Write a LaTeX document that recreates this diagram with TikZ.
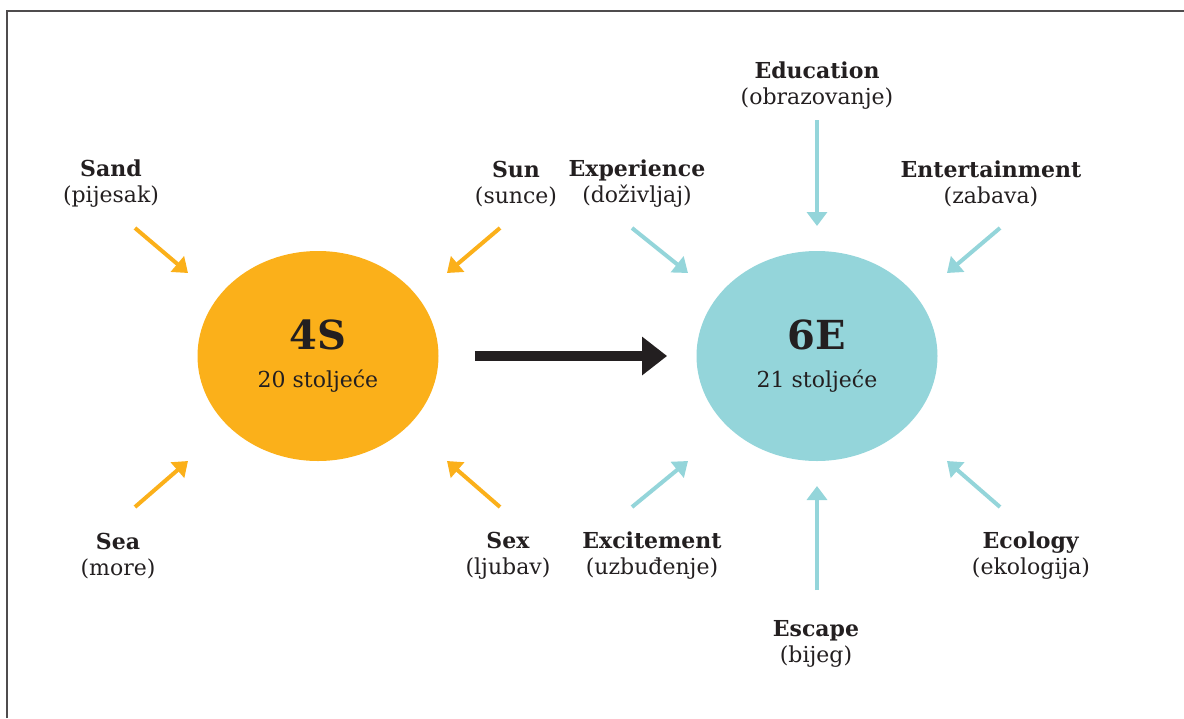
\documentclass[tikz,border=0pt]{standalone}
\usepackage{fontspec}
\setmainfont{DejaVu Serif}
\usetikzlibrary{shapes.geometric,arrows.meta}
\definecolor{sorange}{HTML}{FBB01A}
\definecolor{eteal}{HTML}{94D5DA}
\definecolor{ink}{HTML}{231F20}

\begin{document}
\begin{tikzpicture}[x=0.5pt,y=-0.5pt,
    lab/.style={align=center,text=ink,font=\fontsize{11}{13}\selectfont},
    ball/.style={ellipse,minimum width=120.5pt,minimum height=105pt,align=center,text=ink,inner sep=0pt,font=\fontsize{11}{13}\selectfont},
    sarr/.style={-{Triangle[width=10pt,length=7pt]},line width=2pt,color=sorange},
    earr/.style={-{Triangle[width=10pt,length=7pt]},line width=2pt,color=eteal}]

  \useasboundingbox (0,0) rectangle (1184,718);
  \draw[line width=1pt,color=ink!80] (7,718) -- (7,11) -- (1184,11);

    %%%%%%%%%% 4S %%%%%%%%%%
    \node[ball,fill=sorange] (s0) at (318,356) {{\fontsize{20}{24}\selectfont\bfseries 4S}\\[6pt]20 stoljeće};

      \node[lab] (s1) at (111,184) {\textbf{Sand}\\(pijesak)};
      \node[lab] (s2) at (516,184) {\textbf{Sun}\\(sunce)};
    \node[lab] (s3) at (118,556) {\textbf{Sea}\\(more)};
    \node[lab] (s4) at (508,556) {\textbf{Sex}\\(ljubav)};

     \coordinate (s'1) at (135,228);  \coordinate (ss'1) at (188,273);
     \coordinate (s'2) at (500,228);  \coordinate (ss'2) at (447,273);
     \coordinate (s'3) at (135,507);  \coordinate (ss'3) at (188,461);
     \coordinate (s'4) at (500,507);  \coordinate (ss'4) at (447,461);

    \draw[sarr] (s'1) to (ss'1);
    \draw[sarr] (s'2) to (ss'2);
    \draw[sarr] (s'3) to (ss'3);
    \draw[sarr] (s'4) to (ss'4);

    %%%%%%%%%% 6E %%%%%%%%%%
    \node[ball,fill=eteal] (e0) at (817,356) {{\fontsize{20}{24}\selectfont\bfseries 6E}\\[6pt]21 stoljeće};

      \node[lab] (e1) at (637,184) {\textbf{Experience}\\(doživljaj)};
      \node[lab] (e2) at (817,86) {\textbf{Education}\\(obrazovanje)};
      \node[lab] (e3) at (991,184) {\textbf{Entertainment}\\(zabava)};
    \node[lab] (e4) at (652,556) {\textbf{Excitement}\\(uzbuđenje)};
    \node[lab] (e5) at (816,644) {\textbf{Escape}\\(bijeg)};
    \node[lab] (e6) at (1031,556) {\textbf{Ecology}\\(ekologija)};

     \coordinate (e'1) at (632,228);   \coordinate (ee'1) at (688,273);
     \coordinate (e'2) at (817,120);   \coordinate (ee'2) at (817,226);
     \coordinate (e'3) at (1000,228);  \coordinate (ee'3) at (947,273);
     \coordinate (e'4) at (632,507);   \coordinate (ee'4) at (688,461);
     \coordinate (e'5) at (817,590);   \coordinate (ee'5) at (817,486);
     \coordinate (e'6) at (1000,507);  \coordinate (ee'6) at (947,461);

    \draw[earr] (e'1) to (ee'1);
    \draw[earr] (e'2) to (ee'2);
    \draw[earr] (e'3) to (ee'3);
    \draw[earr] (e'4) to (ee'4);
    \draw[earr] (e'5) to (ee'5);
    \draw[earr] (e'6) to (ee'6);

    %%%%%%%%%% 4S -> 6E %%%%%%%%%%
    \draw[-{Triangle[width=18.5pt,length=12.5pt]},line width=5pt,color=ink,shorten <=18pt,shorten >=14.5pt] (s0) to (e0);
\end{tikzpicture}
\end{document}
